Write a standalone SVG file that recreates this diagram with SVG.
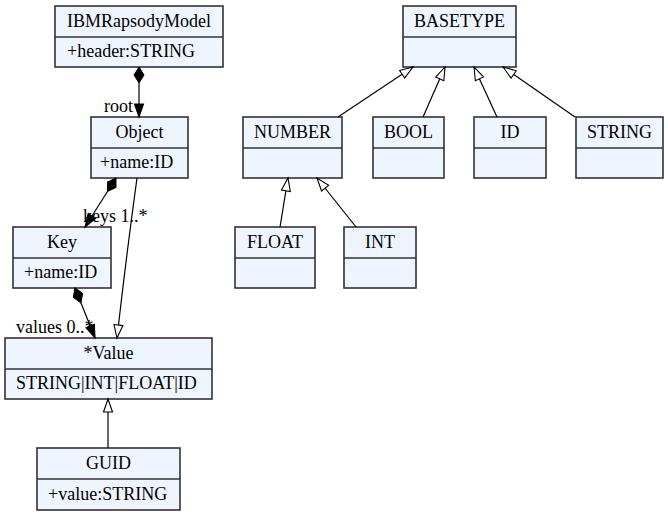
<svg xmlns="http://www.w3.org/2000/svg" width="668" height="516" viewBox="0 0 668 516">
<style>
.box{fill:#eef5fe;stroke:#333;stroke-width:1.6}
.div{stroke:#333;stroke-width:1.6}
text{font-family:"Liberation Serif","Times New Roman",serif;font-size:18px;fill:#000}
.c{text-anchor:middle}
.e{fill:none;stroke:#000;stroke-width:1.2}
</style>
<defs>
<marker id="hollow" markerUnits="userSpaceOnUse" markerWidth="18" markerHeight="14" refX="14" refY="6" orient="auto"><path d="M1,1.5 L14,6 L1,10.5 z" fill="#fff" stroke="#000" stroke-width="1.1"/></marker>
<marker id="filled" markerUnits="userSpaceOnUse" markerWidth="18" markerHeight="14" refX="14" refY="6" orient="auto"><path d="M1,1.5 L14,6 L1,10.5 z" fill="#000" stroke="#000" stroke-width="1.1"/></marker>
<marker id="diamond" markerUnits="userSpaceOnUse" markerWidth="20" markerHeight="14" refX="1" refY="6" orient="auto"><path d="M1,6 L9,1 L17,6 L9,11 z" fill="#000" stroke="#000" stroke-width="1"/></marker>
</defs>
<g id="IBMRapsodyModel"><rect class="box" x="55" y="6" width="168" height="61"/><line class="div" x1="55" y1="37" x2="223" y2="37"/><text class="c" x="139" y="27">IBMRapsodyModel</text><text x="67" y="57">+header:STRING</text></g>
<g id="Object"><rect class="box" x="91" y="117" width="97" height="61"/><line class="div" x1="91" y1="148" x2="188" y2="148"/><text class="c" x="139.5" y="138">Object</text><text x="100" y="168">+name:ID</text></g>
<g id="Key"><rect class="box" x="13" y="227" width="98" height="61"/><line class="div" x1="13" y1="258" x2="111" y2="258"/><text class="c" x="62" y="248">Key</text><text x="24" y="278">+name:ID</text></g>
<g id="Value"><rect class="box" x="5" y="338" width="207" height="61"/><line class="div" x1="5" y1="369" x2="212" y2="369"/><text class="c" x="108.5" y="359">*Value</text><text x="16" y="389">STRING|INT|FLOAT|ID</text></g>
<g id="GUID"><rect class="box" x="37" y="448" width="143" height="62"/><line class="div" x1="37" y1="479" x2="180" y2="479"/><text class="c" x="108.5" y="469">GUID</text><text x="48" y="500">+value:STRING</text></g>
<g id="BASETYPE"><rect class="box" x="403" y="6" width="113" height="61"/><line class="div" x1="403" y1="37" x2="516" y2="37"/><text class="c" x="459.5" y="27">BASETYPE</text></g>
<g id="NUMBER"><rect class="box" x="243" y="117" width="99" height="61"/><line class="div" x1="243" y1="148" x2="342" y2="148"/><text class="c" x="292.5" y="138">NUMBER</text></g>
<g id="BOOL"><rect class="box" x="373" y="117" width="71" height="61"/><line class="div" x1="373" y1="148" x2="444" y2="148"/><text class="c" x="408.5" y="138">BOOL</text></g>
<g id="ID"><rect class="box" x="474" y="117" width="72" height="61"/><line class="div" x1="474" y1="148" x2="546" y2="148"/><text class="c" x="510" y="138">ID</text></g>
<g id="STRING"><rect class="box" x="576" y="117" width="87" height="61"/><line class="div" x1="576" y1="148" x2="663" y2="148"/><text class="c" x="619.5" y="138">STRING</text></g>
<g id="FLOAT"><rect class="box" x="235" y="227" width="80" height="61"/><line class="div" x1="235" y1="258" x2="315" y2="258"/><text class="c" x="275" y="248">FLOAT</text></g>
<g id="INT"><rect class="box" x="344" y="227" width="72" height="61"/><line class="div" x1="344" y1="258" x2="416" y2="258"/><text class="c" x="380" y="248">INT</text></g>
<g id="connectors">
<text x="104" y="112">root</text>
<text x="83" y="222">keys 1..*</text>
<text x="16" y="333">values 0..*</text>
<path class="e" d="M139,67 L139,117" marker-start="url(#diamond)" marker-end="url(#filled)"/>
<path class="e" d="M116,178 L85,227" marker-start="url(#diamond)" marker-end="url(#filled)"/>
<path class="e" d="M75,288 L95,338" marker-start="url(#diamond)" marker-end="url(#filled)"/>
<path class="e" d="M137,178 Q126,258 117,338" marker-end="url(#hollow)"/>
<path class="e" d="M108,448 L108,399" marker-end="url(#hollow)"/>
<path class="e" d="M338,117 L413,67" marker-end="url(#hollow)"/>
<path class="e" d="M423,117 L445,67" marker-end="url(#hollow)"/>
<path class="e" d="M497,117 L474,67" marker-end="url(#hollow)"/>
<path class="e" d="M575,117 L503,67" marker-end="url(#hollow)"/>
<path class="e" d="M280,227 L288,178" marker-end="url(#hollow)"/>
<path class="e" d="M356,227 L317,178" marker-end="url(#hollow)"/>
</g>
</svg>
